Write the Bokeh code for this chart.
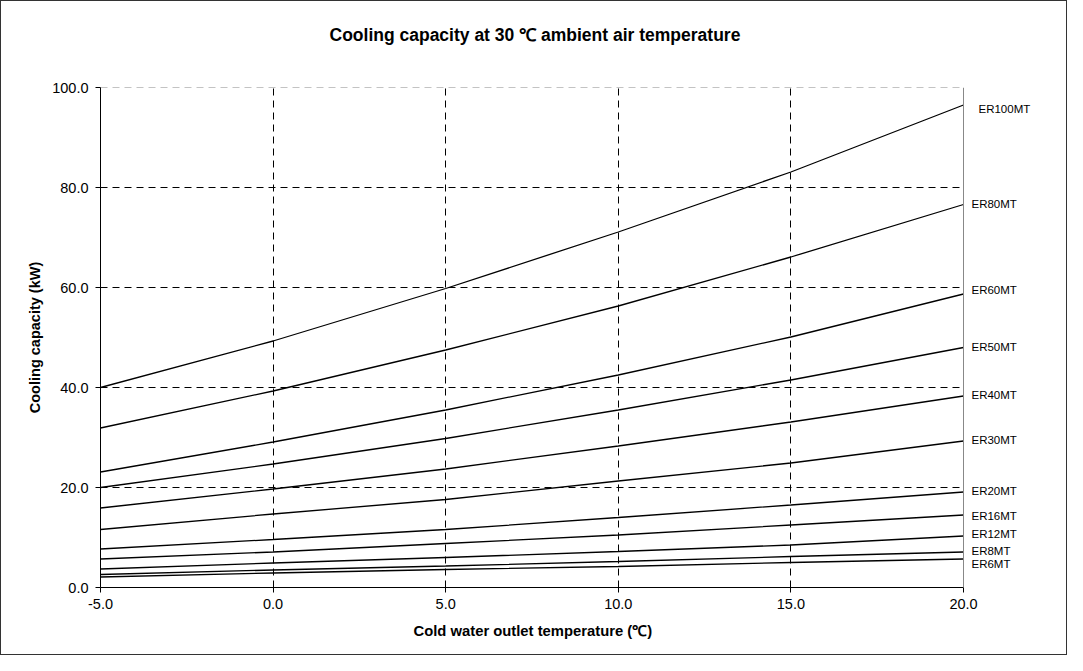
from bokeh.plotting import figure
from bokeh.models import (NumeralTickFormatter, FixedTicker, Span, ColumnDataSource,
                          LabelSet, Title)
from bokeh.core.properties import value
from bokeh.embed import file_html
from bokeh.resources import INLINE

x_temp = [-5, 0, 5, 10, 15, 20]
names = ["ER100MT", "ER80MT", "ER60MT", "ER50MT", "ER40MT", "ER30MT",
         "ER20MT", "ER16MT", "ER12MT", "ER8MT", "ER6MT"]
er100 = [40.0, 49.3, 59.8, 71.1, 83.1, 96.5]
er80 = [31.9, 39.3, 47.5, 56.3, 66.1, 76.6]
er60 = [23.1, 29.1, 35.5, 42.5, 50.1, 58.7]
er50 = [20.0, 24.7, 29.8, 35.5, 41.5, 48.0]
er40 = [15.9, 19.7, 23.7, 28.3, 33.1, 38.3]
er30 = [11.6, 14.7, 17.6, 21.3, 24.9, 29.3]
er20 = [7.7, 9.6, 11.6, 14.0, 16.5, 19.1]
er16 = [5.7, 7.1, 8.8, 10.5, 12.5, 14.5]
er12 = [3.7, 4.9, 6.0, 7.2, 8.5, 10.3]
er8 = [2.6, 3.5, 4.3, 5.2, 6.2, 7.1]
er6 = [2.1, 2.9, 3.6, 4.2, 5.0, 5.7]
series = [er100, er80, er60, er50, er40, er30, er20, er16, er12, er8, er6]
label_y = [95.8, 76.8, 59.5, 48.2, 38.6, 29.5, 19.4, 14.3, 10.8, 7.3, 4.8]
x_ticks = [-5, 0, 5, 10, 15, 20]
y_ticks = [0, 20, 40, 60, 80, 100]

FONT = "Liberation Sans"

W, H = 1067, 655
BL, BR, BT, BB = 99, 7, 86, 69
PLOT_W = 863  # pixel width of the -5..20 region
frame_w = W - BL - BR
x_lo, x_hi = x_ticks[0], x_ticks[-1]
x_max = x_lo + (x_hi - x_lo) * frame_w / PLOT_W

p = figure(width=W, height=H, x_range=(x_lo, x_max), y_range=(0, 100),
           output_backend="svg", toolbar_location=None,
           min_border_left=BL, min_border_right=BR, min_border_top=BT,
           min_border_bottom=BB)
p.styles = {"border": "1px solid #333"}

p.title.text = "Cooling capacity at 30 \u2103 ambient air temperature"
p.title.align = "left"
p.title.offset = 229
p.title.vertical_align = "top"
p.title.text_font = FONT
p.title.text_font_size = "17.5px"
p.title.text_font_style = "bold"
p.title.text_color = "black"
p.title.standoff = 44

spacer = Title(text=" ", standoff=8, text_font=FONT, text_font_size="8px",
               text_color="white")
p.add_layout(spacer, "above")

p.outline_line_color = None
p.background_fill_color = "white"
p.border_fill_color = "white"

p.xgrid.ticker = FixedTicker(ticks=[0, 5, 10, 15])
p.xgrid.grid_line_color = "black"
p.xgrid.grid_line_dash = "7 5"
p.ygrid.visible = False

for yv in y_ticks[1:]:
    p.segment(x0=x_lo, x1=x_hi, y0=yv, y1=yv,
              line_color="#888888" if yv == y_ticks[-1] else "black",
              line_dash="7 5", line_width=1)

p.add_layout(Span(location=x_hi, dimension="height", line_color="#888888", line_width=1))

p.xaxis.ticker = FixedTicker(ticks=x_ticks)
p.yaxis.ticker = FixedTicker(ticks=y_ticks)
p.xaxis.bounds = (x_lo, x_hi)
p.xaxis.formatter = NumeralTickFormatter(format="0.0")
p.yaxis.formatter = NumeralTickFormatter(format="0.0")
for ax in (p.xaxis, p.yaxis):
    ax.axis_line_color = "black"
    ax.axis_line_width = 1
    ax.major_tick_line_color = "black"
    ax.major_tick_out = 5
    ax.major_tick_in = 0
    ax.minor_tick_line_color = None
    ax.major_label_text_font = FONT
    ax.major_label_text_font_size = "14.5px"
    ax.major_label_text_color = "black"
    ax.axis_label_text_font = FONT
    ax.axis_label_text_font_size = "14.5px"
    ax.axis_label_text_font_style = "bold"
    ax.axis_label_text_color = "black"
p.yaxis.axis_label = "Cooling capacity (kW)"
p.xaxis.major_label_standoff = 6
p.yaxis.major_label_standoff = 7
p.yaxis.axis_label_standoff = 6

xlab = Title(text="Cold water outlet temperature (\u2103)", align="left", offset=313,
             vertical_align="top", standoff=22, text_font=FONT,
             text_font_size="14.8px", text_font_style="bold", text_color="black")
p.add_layout(xlab, "below")

for ys in series:
    p.line(x_temp, ys, line_color="black", line_width=1.3)

x_end = [x_hi] * len(names)
offs = [15] + [8] * (len(names) - 1)
src = ColumnDataSource(dict(x=x_end, y=label_y, t=names, o=offs))
p.add_layout(LabelSet(x="x", y="y", text="t", x_offset="o", source=src,
                      text_font=value(FONT), text_font_size="11.5px",
                      text_baseline="middle", text_align="left",
                      text_color="black"))

open("out.html", "w").write(file_html(p, INLINE))
